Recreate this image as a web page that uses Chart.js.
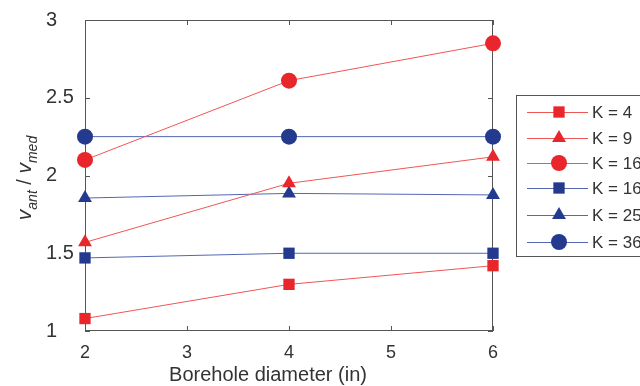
<!DOCTYPE html>
<html>
<head>
<meta charset="utf-8">
<script src="https://cdn.jsdelivr.net/npm/chart.js@4"></script>
<style>
  html, body { margin: 0; padding: 0; background: #fff; }
  #wrap { width: 640px; height: 386px; }
</style>
</head>
<body>
<div id="wrap"><canvas id="myChart" width="640" height="386"></canvas></div>
<script>
// borehole diameter (in)
const diameters = [2, 4, 6]
const xTicks = [2, 3, 4, 5, 6]
const yTicks = [1, 1.5, 2, 2.5, 3]

// v_ant / v_med for each K
const k4 = [1.08, 1.30, 1.42]
const k9 = [1.57, 1.95, 2.12]
const k16red = [2.10, 2.61, 2.85]
const k16blue = [1.47, 1.50, 1.50]
const k25 = [1.855, 1.885, 1.875]
const k36 = [2.25, 2.25, 2.25]

const seriesLabels = ['K = 4', 'K = 9', 'K = 16', 'K = 16', 'K = 25', 'K = 36']
const seriesValues = [k4, k9, k16red, k16blue, k25, k36]
const seriesShapes = ['rect', 'triangle', 'circle', 'rect', 'triangle', 'circle']
const xTitle = 'Borehole diameter (in)'

const RED = '#e8262b'
const RED_LINE = '#f05555'
const BLUE = '#233a8f'
const BLUE_LINE = '#5466b4'
const FONT = '"Liberation Sans", Arial, sans-serif'
const TEXT = '#333'

const datasets = seriesValues.map((vals, i) => {
    const isRed = i < 3
    return {
        label: seriesLabels[i],
        data: vals.map((v, j) => ({x: diameters[j], y: v})),
        borderColor: isRed ? RED_LINE : BLUE_LINE,
        borderWidth: 1,
        backgroundColor: isRed ? RED : BLUE,
        pointBackgroundColor: isRed ? RED : BLUE,
        pointBorderColor: isRed ? RED : BLUE,
        pointBorderWidth: 0,
        pointRadius: 8,
        pointStyle: seriesShapes[i],
        tension: 0,
        clip: false
    }
})

// axis box with inward ticks, drawn under the markers
const boxPlugin = {
    id: 'box',
    beforeDatasetsDraw(chart) {
        const {ctx, chartArea: a, scales} = chart
        ctx.save()
        ctx.strokeStyle = '#555'
        ctx.lineWidth = 1
        ctx.strokeRect(a.left + 0.5, a.top + 0.5, a.right - a.left - 1, a.bottom - a.top - 1)
        ctx.beginPath()
        xTicks.forEach((t) => {
            const px = Math.round(scales.x.getPixelForValue(t)) + 0.5
            ctx.moveTo(px, a.bottom); ctx.lineTo(px, a.bottom - 5)
            ctx.moveTo(px, a.top); ctx.lineTo(px, a.top + 5)
        })
        yTicks.forEach((t) => {
            const py = Math.round(scales.y.getPixelForValue(t)) + 0.5
            ctx.moveTo(a.left, py); ctx.lineTo(a.left + 5, py)
            ctx.moveTo(a.right, py); ctx.lineTo(a.right - 5, py)
        })
        ctx.stroke()
        ctx.restore()
    },
    afterDraw(chart) {
        const ctx = chart.ctx

        // x axis title (sits a bit left of the plot centre in the original)
        ctx.save()
        ctx.fillStyle = TEXT
        ctx.font = '20px ' + FONT
        ctx.textAlign = 'center'
        ctx.textBaseline = 'middle'
        ctx.fillText(xTitle, 268, 375)
        ctx.restore()

        // y axis title: v_ant / v_med
        ctx.save()
        ctx.translate(31, 178)
        ctx.rotate(-Math.PI / 2)
        ctx.fillStyle = TEXT
        ctx.textBaseline = 'alphabetic'
        const parts = [
            {t: 'v', f: 'italic 21px ' + FONT, dy: 0},
            {t: 'ant', f: 'italic 14px ' + FONT, dy: 6},
            {t: ' / ', f: '20px ' + FONT, dy: 0},
            {t: 'v', f: 'italic 21px ' + FONT, dy: 0},
            {t: 'med', f: 'italic 14px ' + FONT, dy: 6}
        ]
        let total = 0
        parts.forEach((p) => { ctx.font = p.f; total += ctx.measureText(p.t).width })
        let x = -total / 2
        parts.forEach((p) => {
            ctx.font = p.f
            ctx.fillText(p.t, x, p.dy)
            x += ctx.measureText(p.t).width
        })
        ctx.restore()

        // legend
        ctx.save()
        ctx.fillStyle = '#fff'
        ctx.fillRect(516, 95, 130, 162)
        ctx.strokeStyle = '#555'
        ctx.lineWidth = 1
        ctx.strokeRect(516.5, 95.5, 130, 161)
        const rows = [112, 138, 163, 188, 215, 242]
        chart.data.datasets.forEach((ds, i) => {
            const y = rows[i]
            ctx.strokeStyle = ds.borderColor
            ctx.lineWidth = 1
            ctx.beginPath()
            ctx.moveTo(527, y + 0.5)
            ctx.lineTo(588, y + 0.5)
            ctx.stroke()
            ctx.fillStyle = ds.pointBackgroundColor
            ctx.strokeStyle = ds.pointBackgroundColor
            Chart.helpers.drawPoint(ctx, {pointStyle: ds.pointStyle, rotation: 0, radius: 8, borderWidth: 0}, 559, y)
            ctx.fillStyle = TEXT
            ctx.font = '17px ' + FONT
            ctx.textBaseline = 'middle'
            ctx.textAlign = 'left'
            ctx.fillText(ds.label, 592, y + 1)
        })
        ctx.restore()
    }
}

const config = {
    type: 'line',
    data: {datasets: datasets},
    options: {
        responsive: false,
        animation: false,
        layout: {padding: {top: 20, right: 147, left: 46, bottom: 0}},
        plugins: {
            legend: {display: false},
            tooltip: {enabled: false}
        },
        scales: {
            x: {
                type: 'linear',
                min: 2,
                max: 6,
                afterFit: (scale) => { scale.height = 55 },
                afterBuildTicks: (scale) => { scale.ticks = xTicks.map((v) => ({value: v})) },
                grid: {display: false},
                border: {display: false},
                ticks: {
                    color: TEXT,
                    padding: 3,
                    font: {family: FONT, size: 18},
                    callback: (value) => String(value)
                },
                title: {display: false}
            },
            y: {
                type: 'linear',
                min: 1,
                max: 3,
                afterFit: (scale) => { scale.width = 39 },
                afterBuildTicks: (scale) => { scale.ticks = yTicks.map((v) => ({value: v})) },
                grid: {display: false},
                border: {display: false},
                ticks: {
                    color: TEXT,
                    padding: 6,
                    crossAlign: 'far',
                    font: {family: FONT, size: 20},
                    callback: (value) => String(value)
                }
            }
        }
    },
    plugins: [boxPlugin]
}

const myChart = new Chart(document.getElementById('myChart'), config)
</script>
</body>
</html>
